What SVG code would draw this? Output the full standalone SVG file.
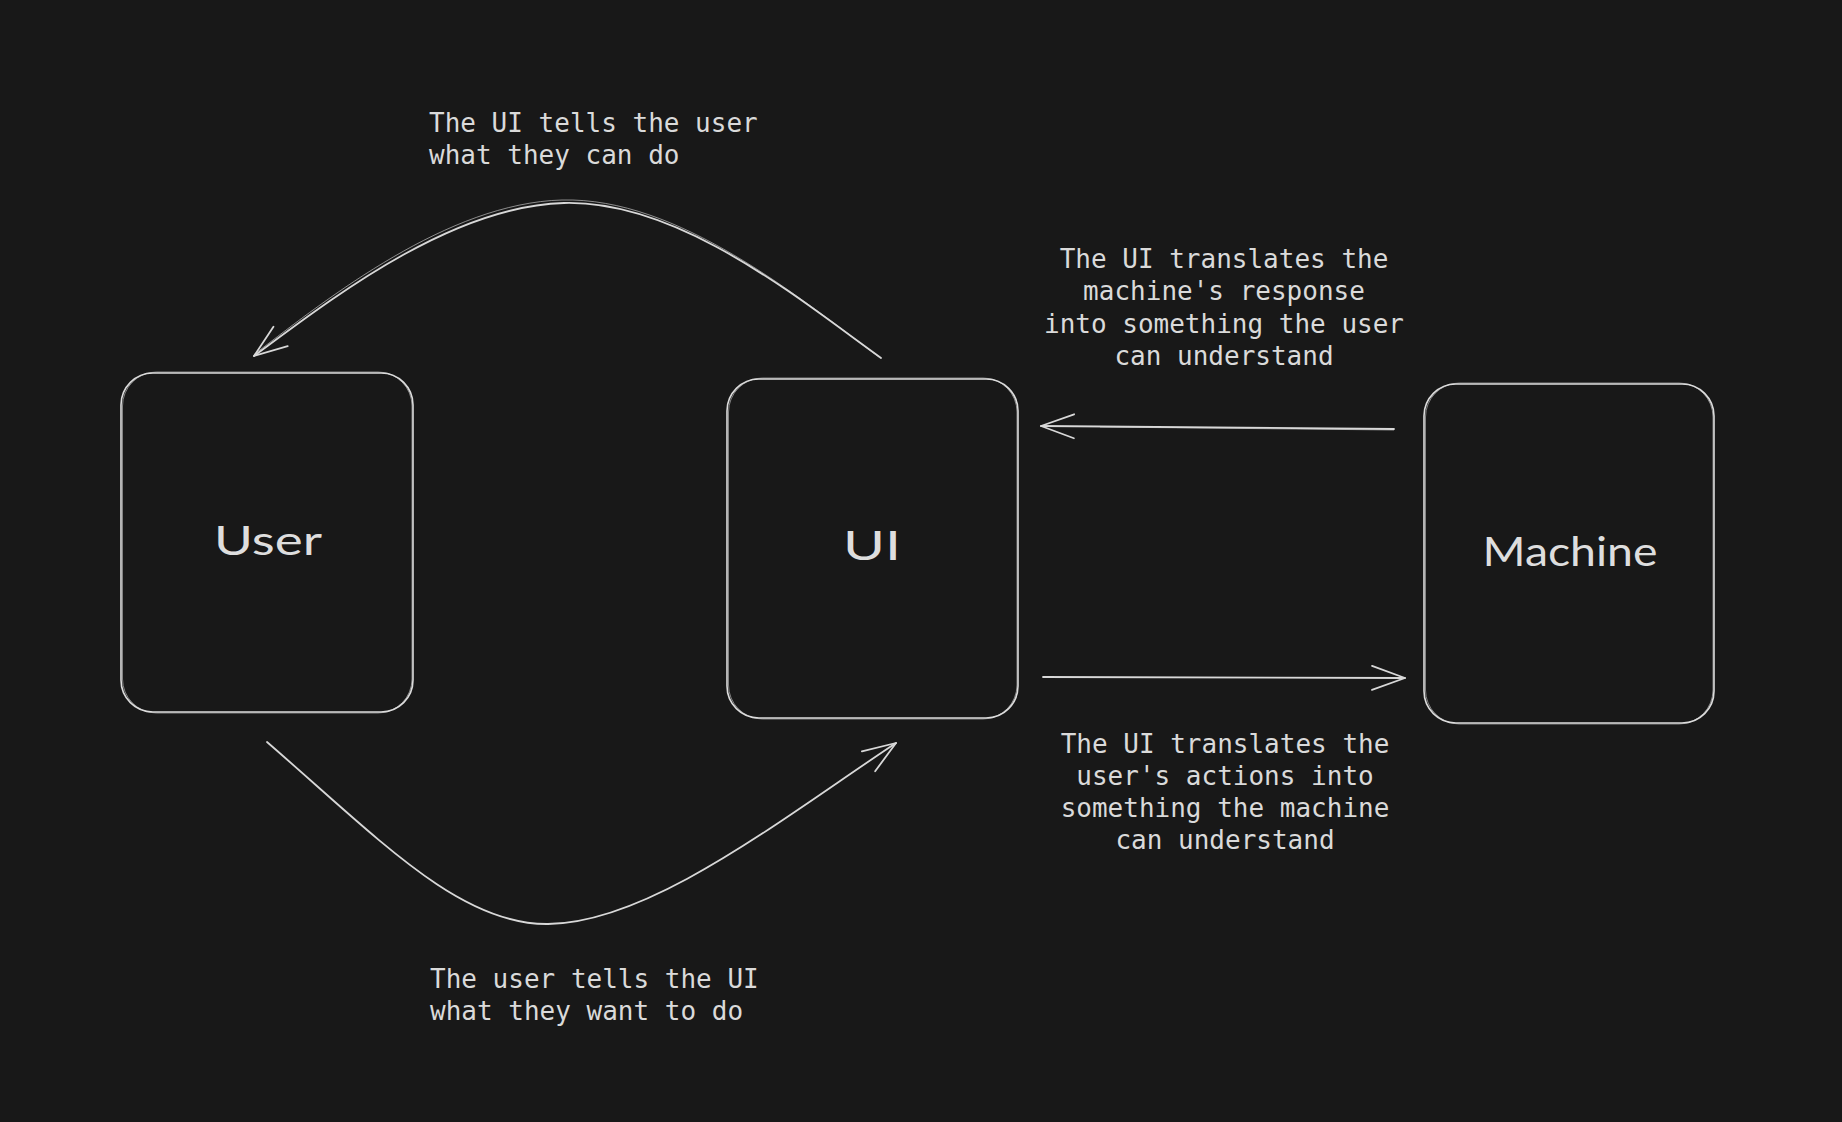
<svg xmlns="http://www.w3.org/2000/svg" width="1842" height="1122" viewBox="0 0 1842 1122">
  <style>
    .box { fill: none; stroke: #dcdcdc; stroke-width: 1.6; }
    .box2 { fill: none; stroke: #dcdcdc; stroke-width: 1; opacity: 0.55; }
    .label { font-family: "Lato", "Liberation Sans", sans-serif; font-size: 40px; fill: #dedede; text-anchor: middle; }
    .note { font-family: "DejaVu Sans Mono", "Liberation Mono", monospace; font-size: 26px; fill: #dadada; }
    .mid { text-anchor: middle; }
    .conn { fill: none; stroke: #d8d8d8; stroke-width: 1.8; stroke-linecap: round; }
    .conn2 { fill: none; stroke: #d8d8d8; stroke-width: 1; opacity: 0.6; }
  </style>
  <defs>
    <marker id="arr" markerWidth="40" markerHeight="30" refX="36" refY="15" orient="auto" markerUnits="userSpaceOnUse" overflow="visible">
      <path d="M3,3 L36,15 L3,27" fill="none" stroke="#d8d8d8" stroke-width="1.8" stroke-linecap="round" stroke-linejoin="round"/>
    </marker>
  </defs>
  <rect width="1842" height="1122" fill="#181818"/>

  <g id="node-user">
    <rect class="box" x="121" y="373" width="292" height="339" rx="32"/>
    <rect class="box2" x="122.5" y="372" width="289.5" height="341" rx="34"/>
    <text class="label" x="268" y="555" textLength="108" lengthAdjust="spacingAndGlyphs">User</text>
  </g>

  <g id="node-ui">
    <rect class="box" x="727" y="379" width="291" height="339" rx="32"/>
    <rect class="box2" x="728.5" y="378" width="288.5" height="341" rx="34"/>
    <text class="label" x="872" y="560" textLength="58" lengthAdjust="spacingAndGlyphs">UI</text>
  </g>

  <g id="node-machine">
    <rect class="box" x="1424" y="384" width="290" height="339" rx="32"/>
    <rect class="box2" x="1425.5" y="383" width="287.5" height="341" rx="34"/>
    <text class="label" x="1570" y="566" textLength="175" lengthAdjust="spacingAndGlyphs">Machine</text>
  </g>

  <g id="connectors">
    <path class="conn" d="M881,358 C800,300 680,200 564,203 C450,206 330,300 254,356" marker-end="url(#arr)"/>
    <path class="conn2" d="M879,357 C798,297 678,197 562,200 C448,203 328,298 256,353"/>
    <path class="conn" d="M267,742 C380,840 460,925 548,924 C650,923 780,820 896,743" marker-end="url(#arr)"/>
    <path class="conn" d="M1394,429 L1041,426" marker-end="url(#arr)"/>
    <path class="conn2" d="M1394,430 L1100,427"/>
    <path class="conn" d="M1043,677 L1405,678" marker-end="url(#arr)"/>
  </g>

  <g id="labels">
    <text class="note" x="429" y="132">The UI tells the user</text>
    <text class="note" x="429" y="164">what they can do</text>

    <text class="note mid" x="1224" y="268">The UI translates the</text>
    <text class="note mid" x="1224" y="300">machine's response</text>
    <text class="note mid" x="1224" y="333">into something the user</text>
    <text class="note mid" x="1224" y="365">can understand</text>

    <text class="note mid" x="1225" y="753">The UI translates the</text>
    <text class="note mid" x="1225" y="785">user's actions into</text>
    <text class="note mid" x="1225" y="817">something the machine</text>
    <text class="note mid" x="1225" y="849">can understand</text>

    <text class="note" x="430" y="988">The user tells the UI</text>
    <text class="note" x="430" y="1020">what they want to do</text>
  </g>
</svg>
